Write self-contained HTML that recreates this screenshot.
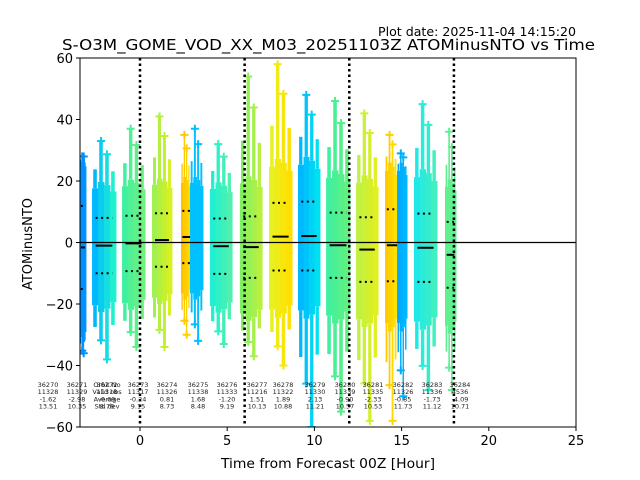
<!DOCTYPE html>
<html><head><meta charset="utf-8"><style>
body{margin:0;background:#fff}
svg{display:block;font-family:"DejaVu Sans","Liberation Sans",sans-serif}
</style></head><body>
<svg id="chart" width="640" height="480" viewBox="0 0 640 480">
<rect width="640" height="480" fill="#fff"/>
<text x="378" y="36" font-size="12.5" textLength="198" lengthAdjust="spacingAndGlyphs">Plot date: 2025-11-04 14:15:20</text>
<text x="62" y="50" font-size="15.5" textLength="533" lengthAdjust="spacingAndGlyphs">S-O3M_GOME_VOD_XX_M03_20251103Z ATOMinusNTO vs Time</text>
<g id="marks"></g>
<g id="axes"></g>
<text x="221" y="468" font-size="13" textLength="214" lengthAdjust="spacingAndGlyphs">Time from Forecast 00Z [Hour]</text>
<text x="32" y="244" font-size="13" text-anchor="middle" transform="rotate(-90 32 244)">ATOMinusNTO</text>
</svg>
<script>
const bandStart=[-3.44,-2.75,-1.03,0.69,2.35,2.87,4.01,5.73,7.40,9.06,10.67,12.39,14.05,14.74,15.71,17.49];
const bandEnd=[-3.10,-1.38,0.29,1.83,2.87,3.61,5.28,7.00,8.72,10.32,12.04,13.65,14.74,15.31,17.03,18.12];
const bandMean=[-1.6,-1,-0.3,0.8,1.8,1.8,-1.2,-1.5,1.9,2.1,-0.9,-2.3,-0.9,-0.9,-1.7,-4];
const bandStd=[13.5,9,9,8.7,8.5,8.5,9,10,11,11.2,10.6,10.5,11.7,11.7,11.1,10.7];
const bandMin=[-36,-38,-34,-34,-30,-32,-33,-37,-40,-60,-55,-58,-58,-50,-48,-48];
const bandMax=[28,33,37,41,35,37,32,54,58,48,46,42,35,29,45,36];
const colorA=["#0090ff","#00b8ff","#40f0a0","#a0f050","#ffc000","#00c0ff","#20f0d0","#80f060","#e8f020","#00b8ff","#40f0a0","#c0f040","#ffc800","#00a8ff","#20e8e8","#60f090"];
const colorB=["#0090ff","#20f0d0","#70f080","#d8f020","#ffd800","#00c0ff","#50f0b0","#b8f040","#ffe000","#00e0f0","#60f080","#e0f020","#ffe000","#00b8ff","#40f0c0","#60f090"];
const showMean=[1,1,1,1,1,0,1,1,1,1,1,1,1,0,1,1];
const vlines=[0,6,12,18];
const xTicks=[0,5,10,15,20,25];
const yTicks=[-60,-40,-20,0,20,40,60];
const orbitNo=[36270,36271,36272,36273,36274,36275,36276,36277,36278,36279,36280,36281,36282,36283,36284];
const orbitValid=[11328,11329,11318,11317,11326,11338,11333,11216,11322,11330,11339,11335,11326,11336,4536];
const orbitAvg=["-1.62","-2.98","-0.69","-0.24","0.81","1.68","-1.20","1.51","1.89","2.13","-0.90","-2.33","-0.85","-1.73","-4.09"];
const orbitStd=["13.51","10.35","8.78","9.15","8.73","8.48","9.19","10.13","10.88","11.21","10.57","10.53","11.73","11.12","10.71"];
const orbitLabelX=[48,77,107,138,167,198,227,257,283,315,345,373,403,432,460];

const L=80,R=576,T=58,B=427,XMIN=-3.44,XMAX=25,YMIN=-60,YMAX=60;
const xs=v=>L+(v-XMIN)/(XMAX-XMIN)*(R-L);
const ys=v=>B-(v-YMIN)/(YMAX-YMIN)*(B-T);
const NS="http://www.w3.org/2000/svg";
function mk(tag,attrs,parent){const e=document.createElementNS(NS,tag);for(const k in attrs)e.setAttribute(k,attrs[k]);parent.appendChild(e);return e;}
function lerpColor(a,b,t){const pa=parseInt(a.slice(1),16),pb=parseInt(b.slice(1),16);
 const c=[16,8,0].map(s=>Math.round(((pa>>s)&255)*(1-t)+((pb>>s)&255)*t));return "rgb("+c.join(",")+")";}
const marks=document.getElementById('marks');
const axes=document.getElementById('axes');
const clip=mk('clipPath',{id:'pc'},marks);mk('rect',{x:L,y:T,width:R-L,height:B-T},clip);
const g=mk('g',{'clip-path':'url(#pc)'},marks);
for(let i=0;i<bandStart.length;i++){
 const bg=mk('g',{},g);
 
 
 const x0=xs(bandStart[i]),x1=xs(bandEnd[i]);
 const n=4,w=(x1-x0)/n;
 const m=bandMean[i],s=bandStd[i];
 for(let k=0;k<n;k++){
  const col=lerpColor(colorA[i],colorB[i],n>1?k/(n-1):0);
  const f=[0.9,1,0.95,0.85][k];
  const hi=Math.min(bandMax[i],m+2.3*s*f),lo=Math.max(bandMin[i],m-2.4*s*f);
  const cx=x0+k*w;
  mk('rect',{x:cx,y:ys(hi),width:w+0.5,height:ys(lo)-ys(hi),fill:col},bg);
  const tHi=hi+(bandMax[i]-hi)*(k==1?1:k==2?0.7:0.4), tLo=lo-(lo-bandMin[i])*(k==1?0.6:k==2?1:0.4);
  mk('rect',{x:cx+w*0.2,y:ys(tHi),width:w*0.6,height:ys(hi)-ys(tHi),fill:col},bg);
  mk('rect',{x:cx+w*0.2,y:ys(lo),width:w*0.6,height:ys(tLo)-ys(lo),fill:col},bg);
  if(k==1||k==2){
   [tHi,tLo].forEach(v=>{const px=cx+w/2,py=ys(v);
    mk('path',{d:`M${px-4},${py}H${px+4}M${px},${py-4}V${py+4}`,stroke:col,'stroke-width':2},bg);});
  }
 }
 if(showMean[i]){
  const mx0=x0+(x1-x0)*0.15,mx1=x1-(x1-x0)*0.15,xe=(bandStart[i+1]!==undefined&&!showMean[i+1])?xs(bandEnd[i+1])-(x1-x0)*0.15:mx1;
  const ml=mk('line',{x1:mx0,x2:xe,y1:ys(m),y2:ys(m),stroke:'#000','stroke-width':2},g);
  
  
  [m+s,m-s].forEach(v=>{const dl=mk('line',{x1:mx0,x2:xe,y1:ys(v),y2:ys(v),stroke:'#000','stroke-width':2,'stroke-dasharray':'2,3.5'},g);
   
   });
 }
}
vlines.forEach(v=>{const l=mk('line',{x1:xs(v),x2:xs(v),y1:T,y2:B,stroke:'#000','stroke-width':2.5,'stroke-dasharray':'2.5,3'},g);
 
 });
const zl=mk('line',{x1:L,x2:R,y1:ys(0),y2:ys(0),stroke:'#000','stroke-width':1.2},g);


const st=mk('g',{'font-size':'6.5','text-anchor':'middle',fill:'#222'},marks);


const hdr=["Orbit No","Valid obs","Average","Std dev"];
hdr.forEach((h,r)=>{const t=mk('text',{x:107,y:387+r*7.2},st);t.textContent=h;});
for(let i=0;i<orbitNo.length;i++){
 [orbitNo[i],orbitValid[i],orbitAvg[i],orbitStd[i]].forEach((v,r)=>{
  const t=mk('text',{x:orbitLabelX[i],y:387+r*7.2},st);t.textContent=v;});
}
const fr=mk('rect',{x:L,y:T,width:R-L,height:B-T,fill:'none',stroke:'#000','stroke-width':1},axes);


xTicks.forEach(v=>{const x=xs(v);mk('line',{x1:x,x2:x,y1:B,y2:B+4,stroke:'#000'},axes);
 const t=mk('text',{x:x,y:B+18,'font-size':13,'text-anchor':'middle'},axes);t.textContent=v;
 
 });
yTicks.forEach(v=>{const y=ys(v);mk('line',{x1:L-4,x2:L,y1:y,y2:y,stroke:'#000'},axes);
 const t=mk('text',{x:L-7,y:y+5,'font-size':13,'text-anchor':'end'},axes);t.textContent=(v<0?'\u2212':'')+Math.abs(v);
 
 });
</script>
</body></html>
